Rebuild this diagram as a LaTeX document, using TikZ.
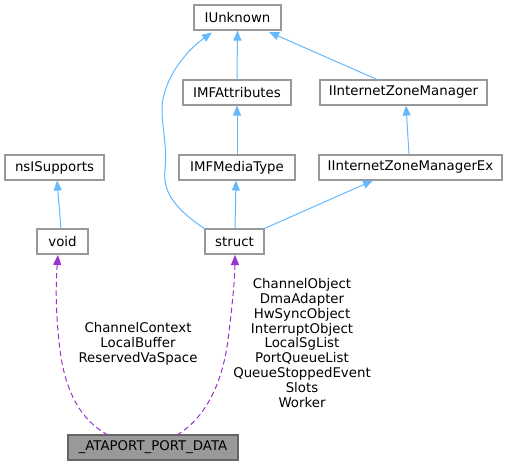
\documentclass[tikz,border=0pt]{standalone}
\usepackage{fontspec}
\setmainfont{DejaVu Sans}
\usetikzlibrary{arrows.meta}
\definecolor{edgeblue}{HTML}{63B8FF}
\definecolor{edgepurple}{HTML}{9A32CD}
\definecolor{boxborder}{HTML}{999999}
\definecolor{darkborder}{HTML}{666666}
\definecolor{darkfill}{HTML}{999999}
\begin{document}
\begin{tikzpicture}[x=0.75pt,y=-0.75pt,
  box/.style={draw=boxborder, line width=0.8pt, fill=white, minimum height=18.75pt, inner sep=0pt, font=\fontsize{10}{12}\selectfont},
  mainbox/.style={box, draw=darkborder, fill=darkfill},
  inh/.style={draw=edgeblue, line width=0.75pt, -{Triangle[length=7.5pt,width=6pt]}},
  use/.style={draw=edgepurple, line width=0.75pt, dashed, dash pattern=on 4pt off 2.5pt, -{Triangle[length=7.5pt,width=6pt]}},
  lbl/.style={align=center, inner sep=0pt, font=\fontsize{10}{11.1}\selectfont}]
\useasboundingbox (0,0) rectangle (507,465);
\node[box, minimum width=65.25pt] (iu) at (237.5,17.5) {IUnknown};
\node[box, minimum width=81pt] (imfa) at (237,92.5) {IMFAttributes};
\node[box, minimum width=125.25pt] (izm) at (403.5,92.5) {IInternetZoneManager};
\node[box, minimum width=74.25pt] (nsi) at (54.5,167.5) {nsISupports};
\node[box, minimum width=87pt] (imfm) at (237,167.5) {IMFMediaType};
\node[box, minimum width=137.25pt] (izmx) at (410.5,167.5) {IInternetZoneManagerEx};
\node[box, minimum width=38.25pt] (void) at (62.5,241.5) {void};
\node[box, minimum width=44.25pt] (struct) at (234.5,241.5) {struct};
\node[mainbox, minimum width=127.5pt] (main) at (153,447.5) {\_ATAPORT\_PORT\_DATA};
% inheritance edges
\draw[inh] (imfa.north) -- (iu.south);
\draw[inh] (izm.north -| 377,0) -- (269,32);
\draw[inh] (imfm.north) -- (imfa.south);
\draw[inh] (izmx.north -| 409,0) -- (406,105.5);
\draw[inh] (struct.north -| 235,0) -- (236,180.5);
\draw[inh] (struct.north east) -- (373,180.5);
\draw[inh] (void.north -| 61,0) -- (57,180.5);
\coordinate (sc) at (205,229);
\draw[inh] (sc) .. controls (180,212) and (162,195) .. (165,170)
  .. controls (168,140) and (158,115) .. (164,95)
  .. controls (170,70) and (190,48) .. (212,32.5);
% usage edges
\coordinate (m1) at (108,435);
\coordinate (m2) at (177,435);
\draw[use] (m1) .. controls (80,420) and (65,390) .. (60,350)
  .. controls (55,310) and (56,280) .. (58,255);
\draw[use] (m2) .. controls (205,418) and (222,385) .. (228,340)
  .. controls (233,300) and (235,275) .. (235,255);
\node[lbl] (l1) at (138,344) {ChannelContext\\LocalBuffer\\ReservedVaSpace};
\node[lbl] (l2) at (302,343) {ChannelObject\\DmaAdapter\\HwSyncObject\\InterruptObject\\LocalSgList\\PortQueueList\\QueueStoppedEvent\\Slots\\Worker};
\end{tikzpicture}
\end{document}
